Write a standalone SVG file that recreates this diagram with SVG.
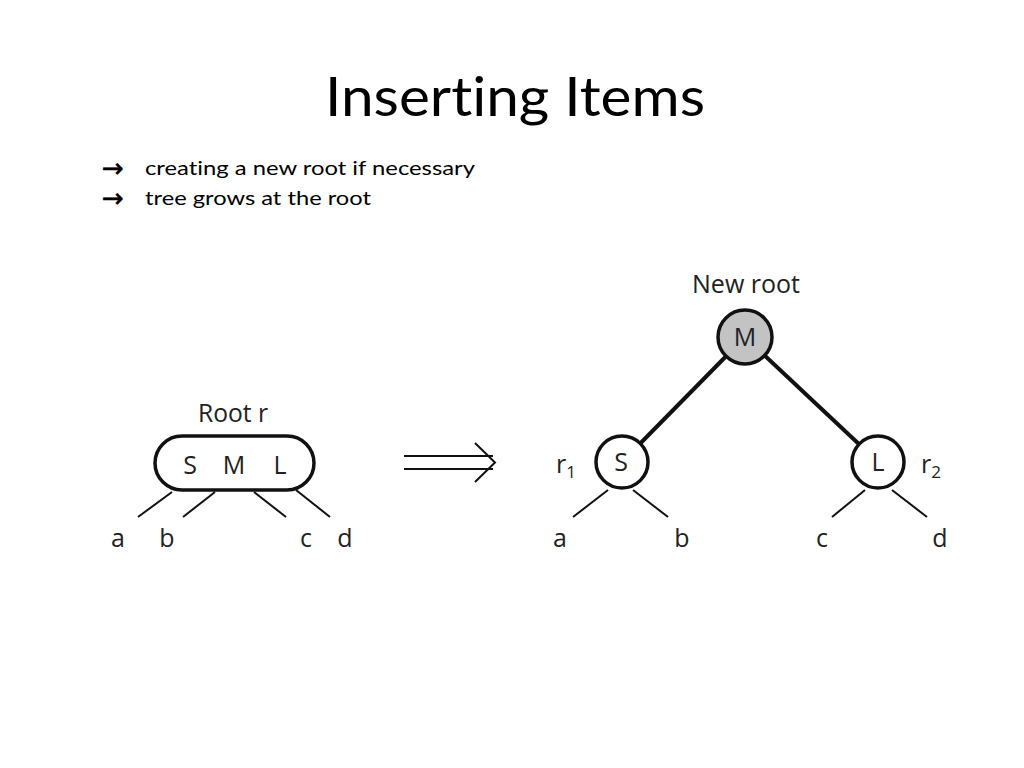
<svg xmlns="http://www.w3.org/2000/svg" width="1024" height="768" viewBox="0 0 1024 768">
<style>
.t{font-family:"Lato","Liberation Sans",sans-serif;fill:#000;font-variant-ligatures:none}
.ar{font-family:"DejaVu Sans",sans-serif;font-size:26px;fill:#000;stroke:#000;stroke-width:0.6}
.d{font-family:"Open Sans","Noto Sans",sans-serif;fill:#222;font-size:25px;text-anchor:middle}
.thin{stroke:#111;stroke-width:2;fill:none}
.thick{stroke:#111;stroke-width:4;fill:none}
.node{stroke:#111;stroke-width:3.5}
</style>
<rect width="1024" height="768" fill="#fff"/>
<text class="t" x="515" y="116" font-size="55" text-anchor="middle" textLength="380" lengthAdjust="spacingAndGlyphs">Inserting Items</text>
<g id="bullets">
<text class="ar" x="102" y="177">→</text>
<text class="t" x="145" y="175" font-size="20" textLength="330" lengthAdjust="spacingAndGlyphs">creating a new root if necessary</text>
<text class="ar" x="102" y="207">→</text>
<text class="t" x="145" y="205" font-size="20" textLength="226" lengthAdjust="spacingAndGlyphs">tree grows at the root</text>
</g>
<g id="connectors">
<line class="thin" x1="172" y1="492" x2="138" y2="517"/>
<line class="thin" x1="215" y1="492" x2="183" y2="517"/>
<line class="thin" x1="254" y1="492" x2="286" y2="517"/>
<line class="thin" x1="296" y1="490" x2="330" y2="517"/>
<line class="thick" x1="745" y1="337" x2="622" y2="462"/>
<line class="thick" x1="745" y1="337" x2="878" y2="462"/>
<line class="thin" x1="608" y1="490" x2="573" y2="517"/>
<line class="thin" x1="633" y1="490" x2="668" y2="517"/>
<line class="thin" x1="865" y1="490" x2="832" y2="517"/>
<line class="thin" x1="892" y1="490" x2="927" y2="517"/>
</g>
<g id="root-r">
<rect class="node" x="155" y="436" width="159" height="54" rx="27" fill="#fff"/>
<text class="d" x="233" y="422" textLength="70" lengthAdjust="spacingAndGlyphs">Root r</text>
<text class="d" x="190" y="474" font-size="28">S</text>
<text class="d" x="234" y="474" font-size="28">M</text>
<text class="d" x="280" y="474" font-size="28">L</text>
</g>
<g id="implies">
<line x1="404" y1="456" x2="493" y2="456" stroke="#111" stroke-width="2"/>
<line x1="404" y1="469" x2="493" y2="469" stroke="#111" stroke-width="2"/>
<polyline points="475,443 495,462.5 475,482" fill="none" stroke="#111" stroke-width="2"/>
</g>
<g id="node-M">
<circle class="node" cx="745" cy="337" r="27" fill="#c3c3c3"/>
<text class="d" x="746" y="293" textLength="108" lengthAdjust="spacingAndGlyphs">New root</text>
<text class="d" x="745" y="346" font-size="26">M</text>
</g>
<g id="node-S">
<circle class="node" cx="622" cy="462" r="26" fill="#fff"/>
<text class="d" x="621" y="471" font-size="26">S</text>
<text class="d" x="566" y="473">r<tspan font-size="17" dy="5">1</tspan></text>
</g>
<g id="node-L">
<circle class="node" cx="878" cy="462" r="26" fill="#fff"/>
<text class="d" x="878" y="471" font-size="26">L</text>
<text class="d" x="931" y="473">r<tspan font-size="17" dy="5">2</tspan></text>
</g>
<g id="leaves">
<text class="d" x="118" y="547">a</text>
<text class="d" x="167" y="547">b</text>
<text class="d" x="306" y="547">c</text>
<text class="d" x="345" y="547">d</text>
<text class="d" x="560" y="547">a</text>
<text class="d" x="682" y="547">b</text>
<text class="d" x="822" y="547">c</text>
<text class="d" x="940" y="547">d</text>
</g>
</svg>
